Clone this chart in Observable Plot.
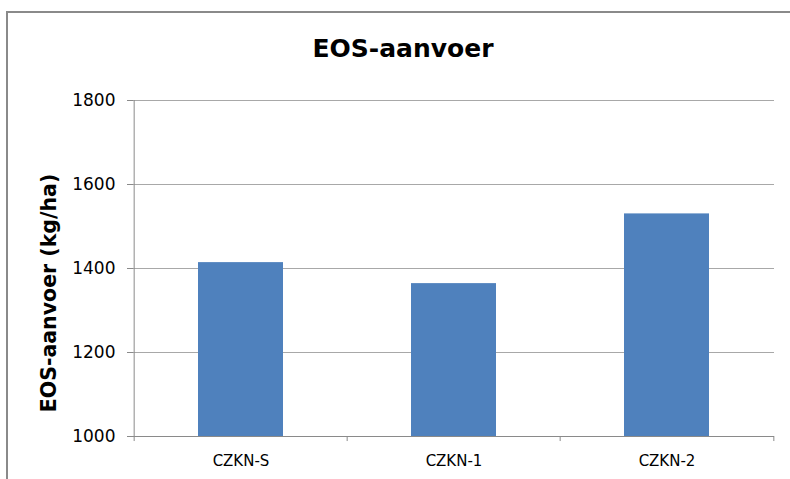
<!DOCTYPE html>
<html>
<head>
<meta charset="utf-8">
<script src="https://cdn.jsdelivr.net/npm/d3@7"></script>
<script src="https://cdn.jsdelivr.net/npm/@observablehq/plot@0.6"></script>
<style>
  html, body { margin: 0; padding: 0; background: #fff; }
  #wrap { position: relative; width: 790px; height: 479px; overflow: hidden; }
  #border { position: absolute; left: 6px; top: 11px; width: 800px; height: 500px;
            border-left: 2px solid #8a8a8a; border-top: 2px solid #8a8a8a; }
  #chart { position: absolute; left: 0; top: 0; }
</style>
</head>
<body>
<div id="wrap"><div id="border"></div><div id="chart"></div></div>
<script>
const categories = ["CZKN-S", "CZKN-1", "CZKN-2"];
const values = [1414, 1364, 1530];
const yTicks = [1000, 1200, 1400, 1600, 1800];
const titleText = "EOS-aanvoer";
const yLabel = "EOS-aanvoer (kg/ha)";

const data = categories.map((c, i) => ({cat: c, value: values[i]}));

const W = 790, H = 479, mL = 133, mR = 16, mT = 100, mB = 43;
const step = (W - mL - mR) / categories.length;
const yMin = yTicks[0], yMax = yTicks[yTicks.length - 1];
const tickBelow = yMin - 12;

const plot = Plot.plot({
  width: W, height: H,
  marginLeft: mL, marginRight: mR, marginTop: mT, marginBottom: mB,
  style: {fontFamily: "DejaVu Sans", color: "#000", background: "transparent", overflow: "visible"},
  x: {domain: categories, paddingInner: 0.6, paddingOuter: 0.3},
  y: {domain: [yMin, yMax]},
  marks: [
    Plot.ruleY(yTicks.slice(1), {stroke: "#a8a8a8", strokeWidth: 1}),
    Plot.barY(data, {x: "cat", y1: yMin, y2: "value", fill: "#4f81bd"}),
    Plot.ruleY([yMin], {stroke: "#8a8a8a", strokeWidth: 1}),
    Plot.ruleX([categories[0]], {dx: -step / 2, y1: tickBelow, y2: yMax, stroke: "#8a8a8a"}),
    Plot.ruleX(categories.slice(1), {dx: -step / 2, y1: yMin, y2: tickBelow, stroke: "#8a8a8a"}),
    Plot.ruleX([categories[categories.length - 1]], {dx: step / 2, y1: yMin, y2: tickBelow, stroke: "#8a8a8a"}),
    Plot.axisY({ticks: yTicks, tickSize: 6, tickPadding: 12, label: null, stroke: "#8a8a8a", fill: "#000", fontSize: 17, tickFormat: d => String(d)}),
    Plot.axisX({tickSize: 0, tickPadding: 19, label: null, fill: "#000", fontSize: 15})
  ]
});

document.getElementById("chart").appendChild(plot);

const svg = d3.select(plot);
svg.append("text")
  .attr("x", 403).attr("y", 57)
  .attr("text-anchor", "middle")
  .attr("font-family", "DejaVu Sans")
  .attr("font-weight", "bold")
  .attr("font-size", 25)
  .attr("fill", "#000")
  .text(titleText);
svg.append("text")
  .attr("transform", "translate(49,293) rotate(-90)")
  .attr("text-anchor", "middle")
  .attr("dy", "0.35em")
  .attr("font-family", "DejaVu Sans")
  .attr("font-weight", "bold")
  .attr("font-size", 20.5)
  .attr("fill", "#000")
  .text(yLabel);
</script>
</body>
</html>
